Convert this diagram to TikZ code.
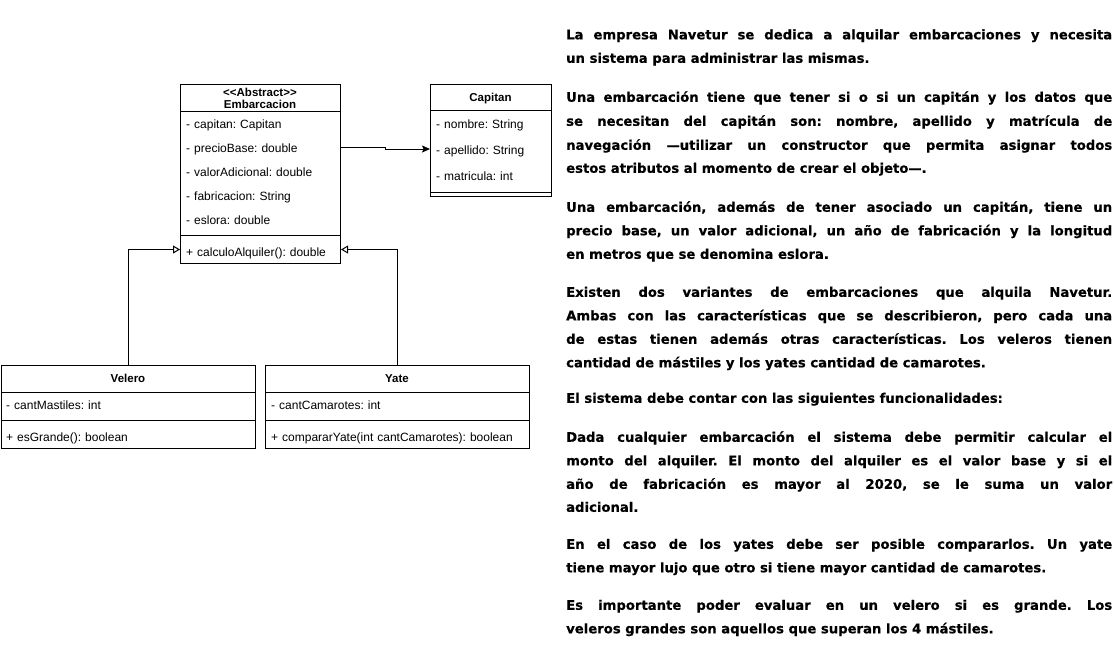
\documentclass[tikz,border=0pt]{standalone}
\usepackage{fontspec}
\setmainfont{Liberation Sans}
\newfontfamily\vfont{DejaVu Sans}[BoldFeatures={FakeBold=0.5}]
\usetikzlibrary{arrows.meta}

\newcommand\rowfont{\fontsize{12}{14}\selectfont}
\newcommand\hdrfont{\fontsize{11.5}{13}\selectfont\bfseries}
\newcommand\parafont{\vfont\bfseries\fontsize{13.2}{16}\selectfont}
\newcommand\txtj[3]{\node[para] (#1) at (566,#2) {\makebox[546pt][s]{#3}};}
\newcommand\txtl[3]{\node[para] (#1) at (566,#2) {#3};}

\tikzset{
  cls/.style={draw, line width=1pt, rectangle, inner sep=0pt, anchor=north west},
  hd/.style={font=\hdrfont, inner sep=0pt, anchor=base},
  row/.style={font=\rowfont, inner xsep=6pt, inner ysep=0pt, text height=10pt, text depth=0pt, align=left, anchor=west, text width=#1},
  para/.style={font=\parafont, inner sep=0pt, anchor=base west},
  assoc/.style={line width=1pt, -{Stealth[length=8pt, width=7pt, inset=1.5pt]}},
  gen/.style={line width=1pt, -{Triangle[open, length=7pt, width=8pt]}},
}

\begin{document}
\frenchspacing
\begin{tikzpicture}[x=1pt, y=-1pt]
\useasboundingbox (0,0) rectangle (1114,657);
\fill[white] (0,0) rectangle (1114,657);

% ---------- Embarcacion ----------
\node[cls, minimum width=160pt, minimum height=27pt] (embH) at (180,84) {};
\node[cls, minimum width=160pt, minimum height=124pt] (embA) at (180,111) {};
\node[cls, minimum width=160pt, minimum height=28pt] (embM) at (180,235) {};
\node[hd] (embS) at (260,96.8) {<{}<Abstract>{}>};
\node[hd] (embN) at (260,108.2) {Embarcacion};
\node[row=148pt] (e1) at (180,123) {- capitan: Capitan};
\node[row=148pt] (e2) at (180,147) {- precioBase: double};
\node[row=148pt] (e3) at (180,171) {- valorAdicional: double};
\node[row=148pt] (e4) at (180,195) {- fabricacion: String};
\node[row=148pt] (e5) at (180,219) {- eslora: double};
\node[row=148pt] (m1) at (180,251) {+ calculoAlquiler(): double};

% ---------- Capitan ----------
\node[cls, minimum width=121pt, minimum height=26pt] (capH) at (430,84) {};
\node[cls, minimum width=121pt, minimum height=82pt] (capA) at (430,110) {};
\node[cls, minimum width=121pt, minimum height=4pt] (capM) at (430,192) {};
\node[hd] (capN) at (490.5,101.2) {Capitan};
\node[row=109pt] (c1) at (430,123) {- nombre: String};
\node[row=109pt] (c2) at (430,149) {- apellido: String};
\node[row=109pt] (c3) at (430,175) {- matricula: int};

% ---------- Velero ----------
\node[cls, minimum width=254pt, minimum height=27pt] (velH) at (1,365) {};
\node[cls, minimum width=254pt, minimum height=28pt] (velA) at (1,392) {};
\node[cls, minimum width=254pt, minimum height=28pt] (velM) at (1,420) {};
\node[hd] (velN) at (128,382.6) {Velero};
\node[row=241pt, inner xsep=5pt, text width=244pt] (v1) at (1,404) {- cantMastiles: int};
\node[row=241pt, inner xsep=5pt, text width=244pt] (v2) at (1,436) {+ esGrande(): boolean};

% ---------- Yate ----------
\node[cls, minimum width=264pt, minimum height=27pt] (yatH) at (265,365) {};
\node[cls, minimum width=264pt, minimum height=28pt] (yatA) at (265,392) {};
\node[cls, minimum width=264pt, minimum height=28pt] (yatM) at (265,420) {};
\node[hd] (yatN) at (397,382.6) {Yate};
\node[row=252pt] (y1) at (265,404) {- cantCamarotes: int};
\node[row=252pt] (y2) at (265,436) {+ compararYate(int cantCamarotes): boolean};

% ---------- connectors ----------
\draw[assoc] (e2.east) -- ++(45,0) |- (c2.west);
\draw[gen] (velH.north) |- (embM.west);
\draw[gen] (yatH.north) |- (embM.east);

% ---------- text ----------
\txtj{t1}{39.3}{La empresa Navetur se dedica a alquilar embarcaciones y necesita}
\txtl{t2}{62.8}{un sistema para administrar las mismas.}
\txtj{t3}{101.8}{Una embarcación tiene que tener si o si un capitán y los datos que}
\txtj{t4}{125.8}{se necesitan del capitán son: nombre, apellido y matrícula de}
\txtj{t5}{149.8}{navegación —utilizar un constructor que permita asignar todos}
\txtl{t6}{172.8}{estos atributos al momento de crear el objeto—.}
\txtj{t7}{211.8}{Una embarcación, además de tener asociado un capitán, tiene un}
\txtj{t8}{235.3}{precio base, un valor adicional, un año de fabricación y la longitud}
\txtl{t9}{258.8}{en metros que se denomina eslora.}
\txtj{t10}{296.8}{Existen dos variantes de embarcaciones que alquila Navetur.}
\txtj{t11}{320.3}{Ambas con las características que se describieron, pero cada una}
\txtj{t12}{343.8}{de estas tienen además otras características. Los veleros tienen}
\txtl{t13}{367.3}{cantidad de mástiles y los yates cantidad de camarotes.}
\txtl{t14}{402.8}{El sistema debe contar con las siguientes funcionalidades:}
\txtj{t15}{441.8}{Dada cualquier embarcación el sistema debe permitir calcular el}
\txtj{t16}{465.3}{monto del alquiler. El monto del alquiler es el valor base y si el}
\txtj{t17}{488.8}{año de fabricación es mayor al 2020, se le suma un valor}
\txtl{t18}{511.8}{adicional.}
\txtj{t19}{548.8}{En el caso de los yates debe ser posible compararlos. Un yate}
\txtl{t20}{572.3}{tiene mayor lujo que otro si tiene mayor cantidad de camarotes.}
\txtj{t21}{609.8}{Es importante poder evaluar en un velero si es grande. Los}
\txtl{t22}{633.3}{veleros grandes son aquellos que superan los 4 mástiles.}
\end{tikzpicture}
\end{document}
